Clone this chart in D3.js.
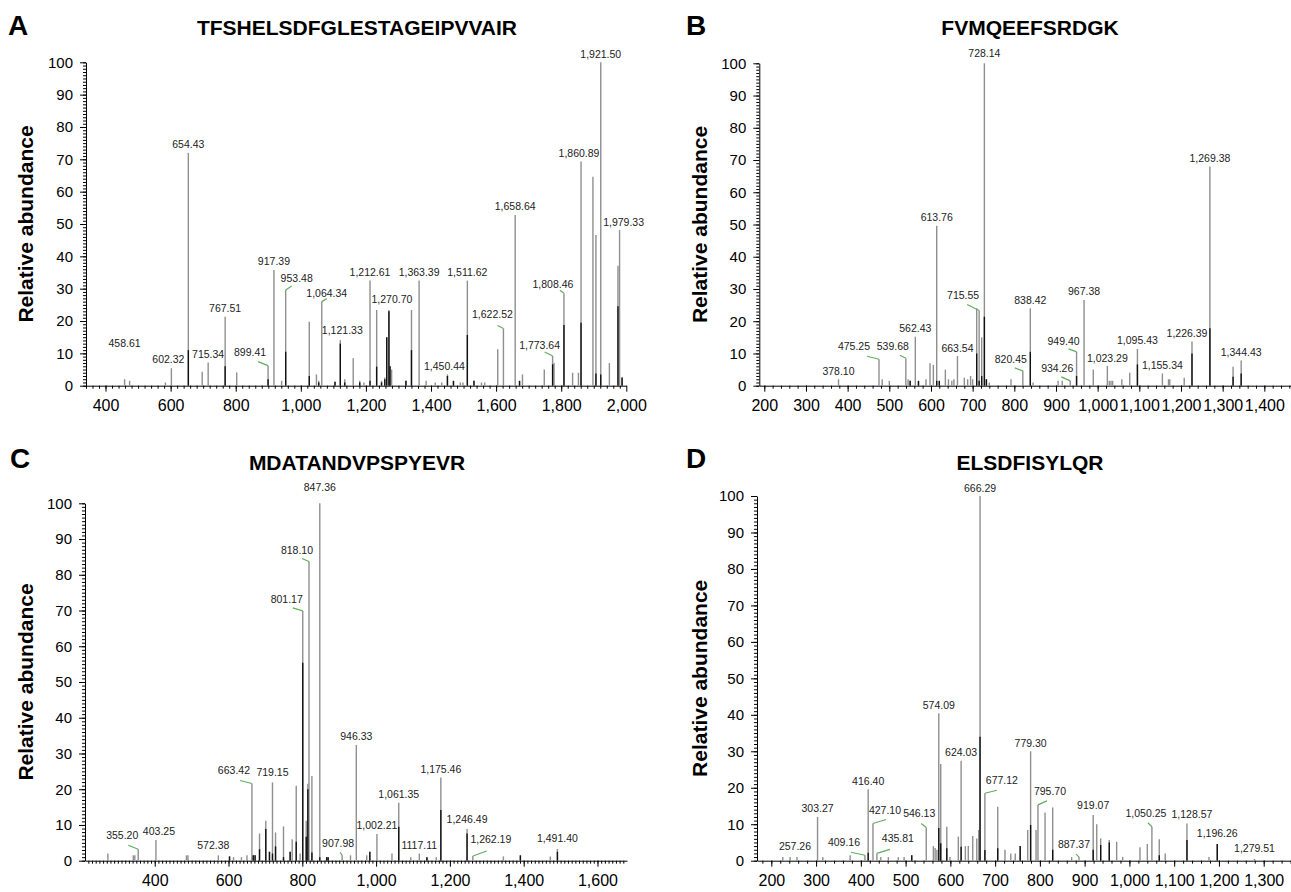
<!DOCTYPE html>
<html>
<head>
<meta charset="utf-8">
<script src="https://cdn.jsdelivr.net/npm/d3@7"></script>
<style>
  body { margin: 0; background: #fff; }
  text { font-family: "Liberation Sans", Arial, sans-serif; }
</style>
</head>
<body>
<svg id="chart" width="1291" height="892"></svg>
<script>
// peaks: [m/z, total (grey) relative abundance, overlaid black abundance]
var peaksA = [
  [458.61, 2, 0], [474, 1.5, 0], [584, 1, 0], [602.32, 5.4, 0], [654.43, 72, 11], [697, 4.3, 0],
  [715.34, 7.2, 0], [767.51, 21.3, 6], [803, 4.1, 0], [899.41, 6.2, 2], [917.39, 35.8, 0], [941, 1.5, 0],
  [953.48, 29.6, 10.5], [1026, 19.8, 3], [1048, 3.5, 0], [1055, 1.5, 1], [1064.34, 26, 0], [1105, 1.2, 1.2],
  [1121.33, 14.1, 13], [1135, 2, 1], [1161, 8.5, 0], [1181, 1.5, 1], [1194, 1, 0], [1212.61, 32.5, 1.5],
  [1233, 23.4, 5.9], [1248, 1.5, 1], [1258, 2.5, 2], [1264, 15, 15], [1270.70, 23.4, 23], [1274, 6, 6],
  [1279, 5, 0], [1323, 1.5, 1.5], [1340, 23.4, 11], [1363.39, 32.5, 0], [1385, 1.5, 0], [1413, 1, 0],
  [1433, 1, 0], [1450.44, 3.5, 3], [1469, 1.5, 1.5], [1490, 1, 0], [1498, 1, 0], [1511.62, 32.5, 15.7],
  [1532, 1.5, 1.5], [1555, 1, 0], [1565, 1, 0], [1605, 11.3, 0], [1622.52, 17.7, 0], [1658.64, 52.8, 0],
  [1672, 1.5, 1.5], [1681, 3.5, 0], [1748, 5, 0], [1773.64, 9.2, 6.6], [1778, 7, 0], [1808.46, 28.6, 18.8],
  [1835, 4, 0], [1853, 4, 0], [1860.89, 69.3, 19.5], [1897.5, 64.6, 0], [1906.7, 46.6, 3.8],
  [1921.50, 100, 3.5], [1948, 7, 0], [1974.4, 37.1, 24.6], [1979.33, 48.1, 0], [1987, 2.5, 2.5]
];
var labelsA = ["458.61", "602.32", "654.43", "715.34", "767.51", "899.41", "917.39", "953.48", "1,064.34",
  "1,121.33", "1,212.61", "1,270.70", "1,363.39", "1,450.44", "1,511.62", "1,622.52", "1,658.64",
  "1,773.64", "1,808.46", "1,860.89", "1,921.50", "1,979.33"];

var peaksB = [
  [378.10, 2, 0], [475.25, 8.2, 0], [483, 2, 0], [500, 1.5, 0], [539.68, 8.5, 0], [545, 2, 0],
  [550, 1.5, 1.5], [562.43, 15.2, 0], [570, 1.5, 1.5], [588, 2, 0], [597.7, 7, 0], [605.7, 6.5, 0],
  [613.76, 49.6, 1.5], [620, 1.5, 1.5], [634.5, 5, 0], [642, 2, 0], [650, 1.5, 0], [655, 2, 0],
  [663.54, 9.2, 0], [680, 2.5, 0], [688, 2, 0], [695, 3, 0], [700, 2, 0], [709.7, 24, 10],
  [715.55, 23.3, 1.5], [721.7, 15, 3], [728.14, 100, 21.4], [733, 2, 2], [740, 1, 0], [792, 2, 0],
  [820.45, 4.6, 0], [838.42, 24, 10.5], [845, 1, 0], [905, 1.5, 0], [915, 1.5, 0], [934.26, 1.5, 0],
  [949.40, 10.5, 3], [967.38, 26.6, 0], [989.5, 5, 0], [1023.29, 6.1, 0], [1028, 1.5, 0], [1032, 1.5, 0],
  [1036, 1.5, 0], [1058, 2, 0], [1077, 4, 0], [1095.43, 11.4, 6.6], [1155.34, 3.8, 0], [1170, 2, 0],
  [1173, 2, 0], [1207.7, 2.5, 0], [1226.39, 13.7, 10], [1269.38, 68, 17.8], [1325, 5.9, 2.8],
  [1344.43, 7.8, 3.8]
];
var labelsB = ["378.10", "475.25", "539.68", "562.43", "613.76", "663.54", "715.55", "728.14", "820.45",
  "838.42", "934.26", "949.40", "967.38", "1,023.29", "1,095.43", "1,155.34", "1,226.39", "1,269.38",
  "1,344.43"];

var peaksC = [
  [273, 2, 0], [342, 1.5, 0], [346, 1.5, 0], [355.20, 3.2, 0], [403.25, 5.8, 0], [486, 1.5, 0],
  [490, 1.5, 0], [572.38, 1.5, 0], [602.7, 1.2, 1.2], [613.6, 1, 0], [635, 1, 0], [650, 1.5, 0],
  [663.42, 21.6, 0], [667, 1.5, 1.5], [672, 1.5, 1.5], [684, 7.6, 3.2], [701, 11.2, 8.9], [711, 2.5, 2.5],
  [719.15, 21.9, 2], [727.4, 7.9, 4], [749, 9.6, 1], [767, 2.5, 2.5], [772.6, 6, 0], [783.5, 21, 5.3],
  [794, 2, 0], [801.17, 69.9, 55.4], [810.6, 11.2, 6.7], [815, 21.5, 20], [818.10, 83.7, 0],
  [826, 23.7, 2.3], [847.36, 100, 1], [866, 1, 1], [870, 1, 1], [907.98, 1.5, 0], [930.6, 1.5, 0],
  [946.33, 32.4, 0], [974.6, 1.5, 0], [983, 2.5, 2.5], [1002.21, 7.5, 0], [1043, 2, 0],
  [1061.35, 16.2, 9.5], [1094, 1, 0], [1117.11, 2, 0], [1137.7, 1, 1], [1163, 1, 0],
  [1175.46, 23.3, 14.2], [1246.49, 8.9, 7.6], [1262.19, 1.3, 0], [1345, 1.2, 0], [1391, 1.5, 1.5],
  [1472, 1.2, 0], [1491.40, 3.3, 2.5]
];
var labelsC = ["355.20", "403.25", "572.38", "663.42", "719.15", "801.17", "818.10", "847.36", "907.98",
  "946.33", "1,002.21", "1,061.35", "1117.11", "1,175.46", "1,246.49", "1,262.19", "1,491.40"];

var peaksD = [
  [225.6, 1, 0], [242, 1, 0], [257.26, 1, 0], [303.27, 12, 0], [315, 1, 0], [376, 1.5, 0],
  [409.16, 1.5, 0], [416.40, 19.6, 2.2], [427.10, 10.2, 0], [435.81, 2, 0], [444.5, 1, 0], [461.5, 1, 0],
  [483.8, 1, 0], [496.6, 1, 0], [513.7, 1.5, 1.5], [546.13, 9.1, 0], [562, 4, 0], [566, 3.5, 0],
  [570, 3, 0], [574.09, 40.4, 9], [578.5, 26.5, 4.8], [592, 9.3, 3.4], [599, 1, 0], [617.8, 6.6, 0],
  [624.03, 27.4, 3.8], [633.5, 4, 0], [640, 4, 0], [650, 6.8, 0], [659, 6.1, 0], [663.4, 8.4, 0],
  [666.29, 100, 34], [677.12, 18.5, 2.9], [705.8, 14.8, 3.4], [722, 3, 0], [735, 2, 0], [745, 2, 0],
  [756, 4, 4], [772.8, 8.4, 0], [779.30, 30, 9.8], [791.4, 8.4, 0], [795.70, 15.3, 0], [811.5, 13.2, 0],
  [828.6, 14.6, 3], [871, 1, 0], [887.37, 1, 0], [919.07, 12.5, 3], [927, 10, 0], [935.8, 6.1, 4.3],
  [955, 5.7, 5], [971.5, 5.2, 0], [985, 1, 0], [1023.6, 3.7, 0], [1040, 4.6, 0], [1050.25, 9.3, 0],
  [1066.7, 5.9, 1.5], [1080, 2, 0], [1128.57, 10.2, 5.7], [1177.7, 1, 0], [1196.26, 4.6, 4.6],
  [1279.51, 0.5, 0]
];
var labelsD = ["257.26", "303.27", "409.16", "416.40", "427.10", "435.81", "546.13", "574.09", "624.03",
  "666.29", "677.12", "779.30", "795.70", "887.37", "919.07", "1,050.25", "1,128.57", "1,196.26",
  "1,279.51"];

var yTicks = d3.range(0, 101, 10);

// label placement tweaks (pixels, relative to the peak top); lead = start of green leader line
var nudges = {
  A: {
    "458.61": {dy: -32}, "602.32": {dx: -3, dy: -5},
    "899.41": {dx: -18, dy: -10, lead: [-10, -4]}, "953.48": {dx: 11, dy: -8, lead: [6, -4]},
    "1,064.34": {dx: 5, dy: -5, lead: [5, -3]}, "1,121.33": {dx: 2, dy: -6}, "1,270.70": {dx: 3, dy: -7},
    "1,450.44": {dx: -3}, "1,622.52": {dx: -11, dy: -10, lead: [-6, -3]},
    "1,773.64": {dx: -13, dy: -7, lead: [-8, -4]}, "1,808.46": {dx: -11, dy: -5, lead: [-4, -3]},
    "1,860.89": {dx: -2}, "1,979.33": {dx: 4}
  },
  B: {
    "475.25": {dx: -25, dy: -9, lead: [-12, -3]}, "539.68": {dx: -13, dy: -8, lead: [-6, -3]},
    "715.55": {dx: -16, dy: -12, lead: [-12, -6]}, "728.14": {dy: -6.5},
    "820.45": {dx: -12, dy: -8, lead: [-8, -3]}, "934.26": {dx: -13, dy: -9, lead: [-9, -4]},
    "949.40": {dx: -13, dy: -7, lead: [-8, -3]}, "1,226.39": {dx: -5}
  },
  C: {
    "355.20": {dx: -16, dy: -10, lead: [-10, -4]}, "403.25": {dx: 3}, "572.38": {dx: -5, dy: -6},
    "663.42": {dx: -18, dy: -10, lead: [-12, -3]}, "719.15": {dy: -6},
    "801.17": {dx: -16, dy: -8, lead: [-10, -3]}, "818.10": {dx: -12, dy: -8, lead: [-7, -3]},
    "847.36": {dy: -12}, "907.98": {dx: -4, dy: -8, lead: [-2, -3]}, "1,246.49": {dy: -6},
    "1,262.19": {dx: 18, dy: -13, lead: [14, -5]}, "1,491.40": {dy: -7}
  },
  D: {
    "257.26": {dx: -2, dy: -7}, "409.16": {dx: -21, dy: -9, lead: [-14, -3]},
    "427.10": {dx: 12, dy: -10, lead: [13, -4]}, "435.81": {dx: 21, dy: -11, lead: [13, -4]},
    "546.13": {dx: -7, dy: -11, lead: [-5, -4]}, "677.12": {dx: 17, dy: -9, lead: [12, -3]},
    "795.70": {dx: 12, dy: -10, lead: [9, -4]}, "887.37": {dx: -5, dy: -9, lead: [-3, -3]},
    "919.07": {dy: -6}, "1,050.25": {dx: -6, dy: -10, lead: [-4, -4]}, "1,128.57": {dx: 5, dy: -6},
    "1,196.26": {dy: -7}, "1,279.51": {dy: -7}
  }
};

var panels = [
  {id: "A", title: "TFSHELSDFGLESTAGEIPVVAIR", peaks: peaksA, labels: labelsA,
   domain: [340, 2000], range: [86, 626.3], top: 62.3, bottom: 385.7,
   major: d3.range(400, 2001, 200), minorStep: 20, titleX: 357, titleY: 35, letterX: 8, letterY: 35, ylabX: 33},
  {id: "B", title: "FVMQEEFSRDGK", peaks: peaksB, labels: labelsB,
   domain: [188, 1464], range: [759.3, 1291], top: 63.3, bottom: 385.7,
   major: d3.range(200, 1401, 100), minorStep: 20, titleX: 1030, titleY: 35, letterX: 686, letterY: 35, ylabX: 707},
  {id: "C", title: "MDATANDVPSPYEVR", peaks: peaksC, labels: labelsC,
   domain: [211, 1680], range: [85, 627], top: 503.3, bottom: 860.7,
   major: d3.range(400, 1601, 200), minorStep: 10, titleX: 357, titleY: 470, letterX: 10, letterY: 468, ylabX: 33},
  {id: "D", title: "ELSDFISYLQR", peaks: peaksD, labels: labelsD,
   domain: [168, 1361], range: [757, 1291], top: 496, bottom: 860.7,
   major: d3.range(200, 1301, 100), minorStep: 20, titleX: 1030, titleY: 470, letterX: 686, letterY: 468, ylabX: 707}
];

var svg = d3.select("#chart");
var fmt = d3.format(",");

panels.forEach(function (p) {
  var g = svg.append("g").attr("class", "panel-" + p.id);
  var x = d3.scaleLinear().domain(p.domain).range(p.range);
  var y = d3.scaleLinear().domain([0, 100]).range([p.bottom, p.top]);

  // panel letter + title
  g.append("text").attr("x", p.letterX).attr("y", p.letterY)
    .attr("font-size", 28).attr("font-weight", "bold").text(p.id);
  g.append("text").attr("x", p.titleX).attr("y", p.titleY).attr("text-anchor", "middle")
    .attr("font-size", 21).attr("font-weight", "bold").text(p.title);

  // y axis label
  g.append("text")
    .attr("transform", "translate(" + p.ylabX + "," + ((p.top + p.bottom) / 2) + ") rotate(-90)")
    .attr("text-anchor", "middle").attr("font-size", 21).attr("font-weight", "bold")
    .text("Relative abundance");

  // y axis with minor ticks
  var yMinor = d3.axisLeft(y).tickValues(d3.range(0, 101, 1)).tickSize(3).tickFormat("");
  g.append("g").attr("transform", "translate(" + p.range[0] + ",0)").call(yMinor)
    .call(function (s) { s.select(".domain").remove(); });
  var yAxis = d3.axisLeft(y).tickValues(yTicks).tickSize(6).tickPadding(7).tickSizeOuter(0);
  g.append("g").attr("transform", "translate(" + p.range[0] + ",0)").call(yAxis)
    .call(function (s) {
      s.selectAll("text").attr("font-size", 15).attr("fill", "#000").style("font-family", "'Liberation Sans', Arial, sans-serif");
    });

  // x axis with minor ticks
  var minorVals = d3.range(Math.ceil(p.domain[0] / p.minorStep) * p.minorStep, p.domain[1], p.minorStep);
  var xMinor = d3.axisBottom(x).tickValues(minorVals).tickSize(3).tickFormat("");
  g.append("g").attr("transform", "translate(0," + p.bottom + ")").call(xMinor)
    .call(function (s) { s.select(".domain").remove(); });
  var xAxis = d3.axisBottom(x).tickValues(p.major).tickSize(6).tickPadding(8).tickSizeOuter(0).tickFormat(fmt);
  g.append("g").attr("transform", "translate(0," + p.bottom + ")").call(xAxis)
    .call(function (s) {
      s.selectAll("text").attr("font-size", 16).attr("fill", "#000").style("font-family", "'Liberation Sans', Arial, sans-serif");
    });

  // peaks: grey full height, black overlay below
  g.append("g").selectAll("line").data(p.peaks).enter().append("line")
    .attr("x1", function (d) { return x(d[0]); }).attr("x2", function (d) { return x(d[0]); })
    .attr("y1", y(0)).attr("y2", function (d) { return y(d[1]); })
    .attr("stroke", "#8f8f8f").attr("stroke-width", 1.4);
  g.append("g").selectAll("line").data(p.peaks.filter(function (d) { return d[2] > 0; })).enter().append("line")
    .attr("x1", function (d) { return x(d[0]); }).attr("x2", function (d) { return x(d[0]); })
    .attr("y1", y(0)).attr("y2", function (d) { return y(d[2]); })
    .attr("stroke", "#111").attr("stroke-width", 1.4);

  // peak labels
  var nudge = nudges[p.id];
  p.labels.forEach(function (t) {
    var mz = +t.replace(/,/g, "");
    var pk = p.peaks.reduce(function (a, b) { return Math.abs(b[0] - mz) < Math.abs(a[0] - mz) ? b : a; });
    var n = nudge[t] || {};
    var px = x(pk[0]), py = y(pk[1]);
    if (n.lead) {
      g.append("line").attr("x1", px + n.lead[0]).attr("y1", py + n.lead[1])
        .attr("x2", px).attr("y2", py).attr("stroke", "#5fae5f").attr("stroke-width", 1.2);
    }
    g.append("text").attr("x", px + (n.dx || 0)).attr("y", py + (n.dy === undefined ? -4.5 : n.dy))
      .attr("text-anchor", "middle").attr("font-size", 10.5).attr("fill", "#222").text(t);
  });
});
</script>
</body>
</html>
